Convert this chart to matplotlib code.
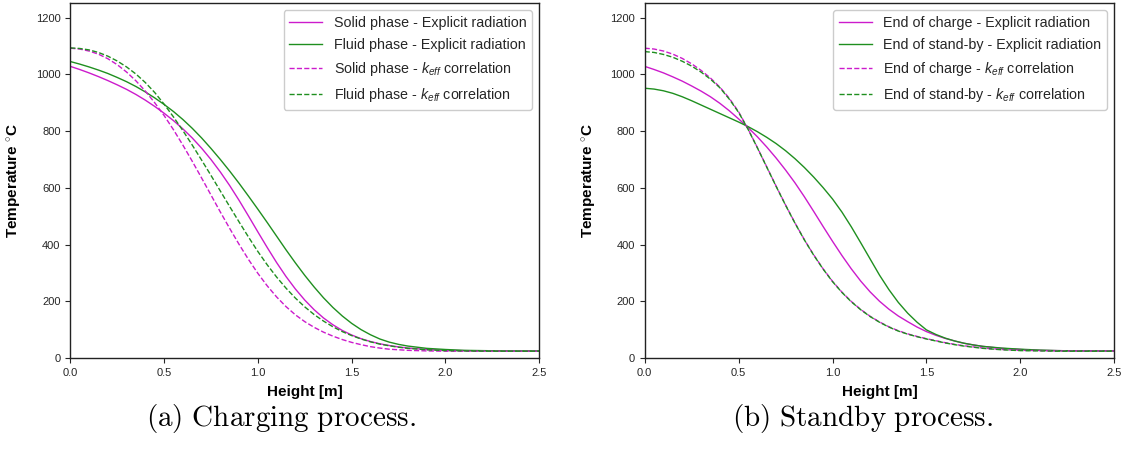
import matplotlib
matplotlib.use('Agg')
import matplotlib.pyplot as plt

plt.rcParams['font.family'] = ['Liberation Sans', 'DejaVu Sans']
plt.rcParams['mathtext.fontset'] = 'custom'
plt.rcParams['mathtext.rm'] = 'Liberation Sans'
plt.rcParams['mathtext.it'] = 'Liberation Sans:italic'
plt.rcParams['mathtext.bf'] = 'Liberation Sans:bold'

# height grid [m]
height = [0.00, 0.05, 0.10, 0.15, 0.20, 0.25, 0.30, 0.35, 0.40, 0.45,
          0.50, 0.55, 0.60, 0.65, 0.70, 0.75, 0.80, 0.85, 0.90, 0.95,
          1.00, 1.05, 1.10, 1.15, 1.20, 1.25, 1.30, 1.35, 1.40, 1.45,
          1.50, 1.55, 1.60, 1.65, 1.70, 1.75, 1.80, 1.90, 2.00, 2.10,
          2.20, 2.30, 2.40, 2.50]

# (a) charging process
a_solid_explicit = [1028, 1017, 1005, 992, 978, 963, 947, 929, 909, 887,
                    863, 837, 808, 776, 740, 700, 656, 608, 556, 501,
                    445, 390, 337, 288, 244, 205, 171, 142, 118, 98,
                    82, 69, 59, 51, 45, 40, 36, 31, 28, 27,
                    26, 25, 25, 25]
a_fluid_explicit = [1045, 1036, 1026, 1015, 1003, 989, 974, 957, 938, 917,
                    894, 869, 841, 810, 776, 739, 700, 659, 616, 571,
                    525, 478, 430, 382, 336, 292, 251, 213, 179, 149,
                    123, 101, 83, 68, 57, 49, 43, 35, 31, 28,
                    27, 26, 26, 26]
a_solid_keff = [1092, 1089, 1082, 1071, 1055, 1034, 1008, 977, 941, 900,
                855, 805, 751, 694, 635, 575, 515, 457, 401, 348,
                299, 255, 216, 182, 153, 129, 109, 92, 78, 66,
                56, 48, 41, 36, 32, 30, 28, 26, 25, 25,
                25, 25, 25, 25]
a_fluid_keff = [1093, 1091, 1086, 1077, 1064, 1047, 1026, 1001, 971, 936,
                895, 850, 802, 751, 698, 644, 589, 534, 480, 427,
                376, 329, 286, 247, 212, 181, 154, 131, 111, 94,
                80, 68, 58, 50, 44, 39, 35, 30, 27, 26,
                25, 25, 25, 25]

# (b) standby process
b_charge_explicit = [1028, 1017, 1005, 991, 976, 959, 941, 921, 898, 872,
                     843, 813, 780, 744, 705, 663, 618, 569, 517, 464,
                     412, 362, 315, 272, 234, 201, 173, 149, 129, 110,
                     94, 81, 70, 61, 53, 47, 42, 35, 31, 28,
                     27, 26, 26, 26]
b_standby_explicit = [951, 948, 942, 933, 921, 907, 892, 877, 862, 847,
                      832, 816, 798, 778, 756, 731, 703, 672, 638, 601,
                      561, 515, 463, 407, 350, 293, 242, 197, 159, 127,
                      100, 84, 71, 61, 53, 47, 42, 36, 32, 29,
                      27, 26, 26, 26]
b_charge_keff = [1092, 1089, 1082, 1071, 1056, 1037, 1014, 987, 955, 916,
                 868, 808, 742, 674, 606, 540, 477, 418, 364, 315,
                 271, 233, 200, 172, 148, 128, 111, 97, 86, 77,
                 69, 62, 55, 49, 44, 40, 36, 31, 28, 27,
                 26, 26, 26, 26]
b_standby_keff = [1080, 1077, 1070, 1060, 1046, 1029, 1008, 983, 953, 913,
                  866, 807, 741, 673, 605, 539, 476, 417, 363, 314,
                  270, 232, 199, 171, 147, 127, 110, 96, 85, 76,
                  68, 61, 54, 48, 43, 39, 35, 30, 27, 26,
                  25, 25, 25, 25]

MAGENTA = '#cc1bcc'
GREEN = '#1f8f1f'

fig = plt.figure(figsize=(11.3, 4.61), dpi=100)
ax_a = fig.add_axes([0.0622, 0.2228, 0.415, 0.770])
ax_b = fig.add_axes([0.5705, 0.2228, 0.4156, 0.770])

ax_a.plot(height, a_solid_explicit, color=MAGENTA, lw=1, label='Solid phase - Explicit radiation')
ax_a.plot(height, a_fluid_explicit, color=GREEN, lw=1, label='Fluid phase - Explicit radiation')
ax_a.plot(height, a_solid_keff, color=MAGENTA, lw=1, ls='--', label=r'Solid phase - $k_{eff}$ correlation')
ax_a.plot(height, a_fluid_keff, color=GREEN, lw=1, ls='--', label=r'Fluid phase - $k_{eff}$ correlation')

ax_b.plot(height, b_charge_explicit, color=MAGENTA, lw=1, label='End of charge - Explicit radiation')
ax_b.plot(height, b_standby_explicit, color=GREEN, lw=1, label='End of stand-by - Explicit radiation')
ax_b.plot(height, b_charge_keff, color=MAGENTA, lw=1, ls='--', label=r'End of charge - $k_{eff}$ correlation')
ax_b.plot(height, b_standby_keff, color=GREEN, lw=1, ls='--', label=r'End of stand-by - $k_{eff}$ correlation')

for ax in (ax_a, ax_b):
    ax.set_xlim(0, 2.5)
    ax.set_ylim(0, 1250)
    ax.set_xticks([0.0, 0.5, 1.0, 1.5, 2.0, 2.5])
    ax.set_yticks(range(0, 1201, 200))
    ax.tick_params(labelsize=8, length=3.5, width=0.8, colors='#262626')
    for sp in ax.spines.values():
        sp.set_color('#222222')
        sp.set_linewidth(1.0)
    ax.set_xlabel('Height [m]', fontsize=11, fontweight='bold', labelpad=5)
    ax.set_ylabel(r'Temperature $^{\circ}\mathbf{C}$', fontsize=11, fontweight='bold', labelpad=9)
    leg = ax.legend(loc='upper right', fontsize=10.3, handlelength=2.3, framealpha=1,
                    edgecolor='#cccccc', labelspacing=0.55, borderaxespad=0.5)
    for t in leg.get_texts():
        t.set_color('#262626')

fig.text(0.249, 0.093, r'$\mathrm{(a)\ Charging\ process.}$', ha='center', va='center',
         fontsize=21, math_fontfamily='cm')
fig.text(0.763, 0.093, r'$\mathrm{(b)\ Standby\ process.}$', ha='center', va='center',
         fontsize=21, math_fontfamily='cm')

fig.savefig('out.png', dpi=100)
